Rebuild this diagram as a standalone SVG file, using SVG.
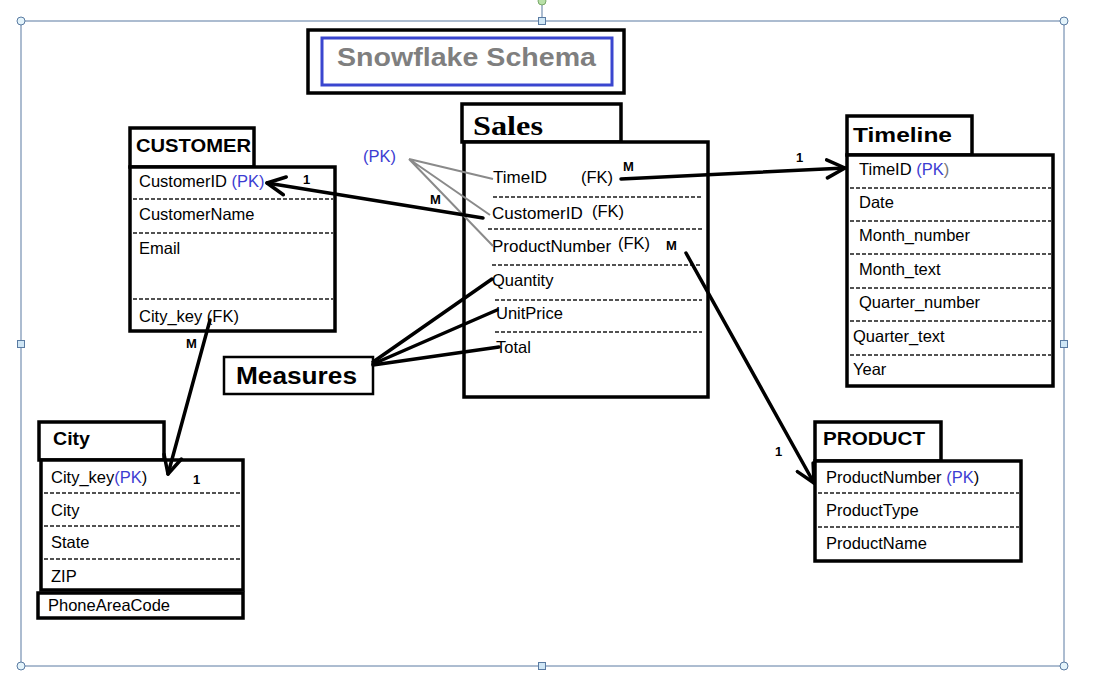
<svg xmlns="http://www.w3.org/2000/svg" width="1097" height="682" viewBox="0 0 1097 682">
<style>
  .box{fill:#fff;stroke:#000;stroke-width:3.5}
  .dash{stroke:#1a1a1a;stroke-width:1.5;stroke-dasharray:4 2}
  .row{font-family:"Liberation Sans",Arial,sans-serif;font-size:16.5px;fill:#000}
  .srow{font-family:"Liberation Sans",Arial,sans-serif;font-size:17px;fill:#000}
  .hdr{font-family:"Liberation Sans",Arial,sans-serif;font-weight:bold;fill:#000}
  .pk{fill:#3c3cd2}
  .lbl{font-family:"Liberation Sans",Arial,sans-serif;font-weight:bold;font-size:13px;fill:#000}
  .conn{stroke:#000;stroke-width:3.5;fill:none;stroke-linecap:round}
  .gray{stroke:#8a8a8a;stroke-width:2;fill:none}
  .frame{fill:none;stroke:#5a7ba2;stroke-width:1}
  .hc{fill:#e4f4fb;stroke:#5a7ba2;stroke-width:1}
  .hs{fill:#cfe6f5;stroke:#5a7ba2;stroke-width:1}
</style>
<defs>
  <marker id="open" viewBox="0 0 22 22" refX="20" refY="11" markerWidth="22" markerHeight="22" markerUnits="userSpaceOnUse" orient="auto">
    <path d="M2,2 L20,11 L2,20" fill="none" stroke="#000" stroke-width="3.5" stroke-linecap="round" stroke-linejoin="round"/>
  </marker>
</defs>
<rect width="1097" height="682" fill="#fff"/>

<g id="selection-frame">
  <rect class="frame" x="21" y="21" width="1043" height="645"/>
  <line x1="542" y1="21" x2="542" y2="5" stroke="#5a7ba2" stroke-width="1"/>
  <circle cx="542" cy="1" r="4" fill="#b8e0a8" stroke="#7aa86a" stroke-width="1"/>
  <circle class="hc" cx="21" cy="21" r="4"/>
  <circle class="hc" cx="1064" cy="21" r="4"/>
  <circle class="hc" cx="21" cy="666" r="4"/>
  <circle class="hc" cx="1064" cy="666" r="4"/>
  <rect class="hs" x="538.5" y="17.5" width="7" height="7"/>
  <rect class="hs" x="538.5" y="662.5" width="7" height="7"/>
  <rect class="hs" x="17.5" y="340.5" width="7" height="7"/>
  <rect class="hs" x="1060.5" y="340.5" width="7" height="7"/>
</g>

<g id="title">
  <rect x="308" y="30" width="316" height="63" fill="#fff" stroke="#000" stroke-width="3.5"/>
  <rect x="322" y="38" width="290" height="47" fill="#fff" stroke="#3a46cf" stroke-width="3"/>
  <text x="337" y="66" class="hdr" font-size="26" style="fill:#7f7f7f" textLength="259" lengthAdjust="spacingAndGlyphs">Snowflake Schema</text>
</g>

<g id="customer">
  <rect class="box" x="130" y="128" width="124" height="39"/>
  <text x="136" y="152" class="hdr" font-size="18" textLength="115" lengthAdjust="spacingAndGlyphs">CUSTOMER</text>
  <rect class="box" x="130" y="167" width="205" height="164"/>
  <text x="139" y="187" class="row">CustomerID <tspan class="pk">(PK)</tspan></text>
  <line class="dash" x1="133" y1="199" x2="333" y2="199"/>
  <text x="139" y="220" class="row">CustomerName</text>
  <line class="dash" x1="133" y1="233" x2="333" y2="233"/>
  <text x="139" y="254" class="row">Email</text>
  <line class="dash" x1="133" y1="299" x2="333" y2="299"/>
  <text x="139" y="322" class="row">City_key  (FK)</text>
</g>

<g id="sales">
  <rect class="box" x="462" y="104" width="159" height="38"/>
  <text x="473" y="135" font-family="Liberation Serif,'Times New Roman',serif" font-weight="bold" font-size="28" textLength="70" lengthAdjust="spacingAndGlyphs">Sales</text>
  <rect class="box" x="464" y="142" width="244" height="255"/>
  <text x="493" y="183" class="srow">TimeID</text>
  <text x="581" y="183" class="row">(FK)</text>
  <line class="dash" x1="493" y1="197" x2="702" y2="197"/>
  <text x="492" y="219" class="srow">CustomerID</text>
  <text x="592" y="217" class="row">(FK)</text>
  <line class="dash" x1="488" y1="229" x2="702" y2="229"/>
  <text x="492" y="252" class="srow">ProductNumber</text>
  <text x="618" y="249" class="row">(FK)</text>
  <line class="dash" x1="492" y1="265" x2="702" y2="265"/>
  <text x="492" y="286" class="row">Quantity</text>
  <line class="dash" x1="495" y1="300" x2="702" y2="300"/>
  <text x="496" y="319" class="row">UnitPrice</text>
  <line class="dash" x1="495" y1="332" x2="702" y2="332"/>
  <text x="496" y="353" class="row">Total</text>
</g>

<g id="timeline">
  <rect class="box" x="847" y="116" width="125" height="39"/>
  <text x="853" y="142" class="hdr" font-size="21" textLength="99" lengthAdjust="spacingAndGlyphs">Timeline</text>
  <rect class="box" x="847" y="155" width="206" height="231"/>
  <text x="859" y="175" class="row">TimeID <tspan class="pk">(PK</tspan><tspan fill="#777">)</tspan></text>
  <line class="dash" x1="850" y1="188" x2="1051" y2="188"/>
  <text x="859" y="208" class="row">Date</text>
  <line class="dash" x1="850" y1="221" x2="1051" y2="221"/>
  <text x="859" y="241" class="row">Month_number</text>
  <line class="dash" x1="850" y1="254" x2="1051" y2="254"/>
  <text x="859" y="275" class="row">Month_text</text>
  <line class="dash" x1="850" y1="288" x2="1051" y2="288"/>
  <text x="859" y="308" class="row">Quarter_number</text>
  <line class="dash" x1="850" y1="321" x2="1051" y2="321"/>
  <text x="853" y="342" class="row">Quarter_text</text>
  <line class="dash" x1="850" y1="355" x2="1051" y2="355"/>
  <text x="853" y="375" class="row">Year</text>
</g>

<g id="city">
  <rect class="box" x="39" y="422" width="125" height="38"/>
  <text x="53" y="445" class="hdr" font-size="19" textLength="37" lengthAdjust="spacingAndGlyphs">City</text>
  <rect class="box" x="41" y="460" width="202" height="130"/>
  <text x="51" y="483" class="row">City_key<tspan class="pk">(PK</tspan>)</text>
  <line class="dash" x1="44" y1="493" x2="241" y2="493"/>
  <text x="51" y="516" class="row">City</text>
  <line class="dash" x1="44" y1="526" x2="241" y2="526"/>
  <text x="51" y="548" class="row">State</text>
  <line class="dash" x1="44" y1="559" x2="241" y2="559"/>
  <text x="51" y="582" class="row">ZIP</text>
  <rect class="box" x="38" y="593" width="205" height="25"/>
  <text x="48" y="611" class="row">PhoneAreaCode</text>
</g>

<g id="product">
  <rect class="box" x="815" y="422" width="126" height="39"/>
  <text x="823" y="445" class="hdr" font-size="19" textLength="102" lengthAdjust="spacingAndGlyphs">PRODUCT</text>
  <rect class="box" x="815" y="461" width="206" height="100"/>
  <text x="826" y="483" class="row">ProductNumber <tspan class="pk">(PK</tspan>)</text>
  <line class="dash" x1="818" y1="493" x2="1019" y2="493"/>
  <text x="826" y="516" class="row">ProductType</text>
  <line class="dash" x1="818" y1="527" x2="1019" y2="527"/>
  <text x="826" y="549" class="row">ProductName</text>
</g>

<g id="measures">
  <rect x="224" y="357" width="149" height="37" fill="#fff" stroke="#000" stroke-width="2.5"/>
  <text x="236" y="384" class="hdr" font-size="23" textLength="121" lengthAdjust="spacingAndGlyphs">Measures</text>
</g>

<g id="pk-callout">
  <text x="363" y="162" class="row" style="fill:#3c3cd2">(PK)</text>
</g>

<g id="connectors">
  <path class="gray" d="M409,159 L493,179 M409,159 L490,215 M409,159 L493,246"/>
  <line class="conn" x1="483" y1="218" x2="267" y2="183" marker-end="url(#open)"/>
  <line class="conn" x1="621" y1="179" x2="845" y2="168" marker-end="url(#open)"/>
  <line class="conn" x1="210" y1="320" x2="168" y2="474" marker-end="url(#open)"/>
  <line class="conn" x1="686" y1="253" x2="814" y2="483" marker-end="url(#open)"/>
  <line class="conn" x1="373" y1="362" x2="492" y2="279"/>
  <line class="conn" x1="373" y1="364" x2="497" y2="310"/>
  <line class="conn" x1="373" y1="365" x2="499" y2="347"/>
  <text x="303" y="184" class="lbl">1</text>
  <text x="430" y="204" class="lbl">M</text>
  <text x="623" y="171" class="lbl">M</text>
  <text x="796" y="162" class="lbl">1</text>
  <text x="666" y="250" class="lbl">M</text>
  <text x="186" y="348" class="lbl">M</text>
  <text x="193" y="484" class="lbl">1</text>
  <text x="775" y="456" class="lbl">1</text>
</g>
</svg>
